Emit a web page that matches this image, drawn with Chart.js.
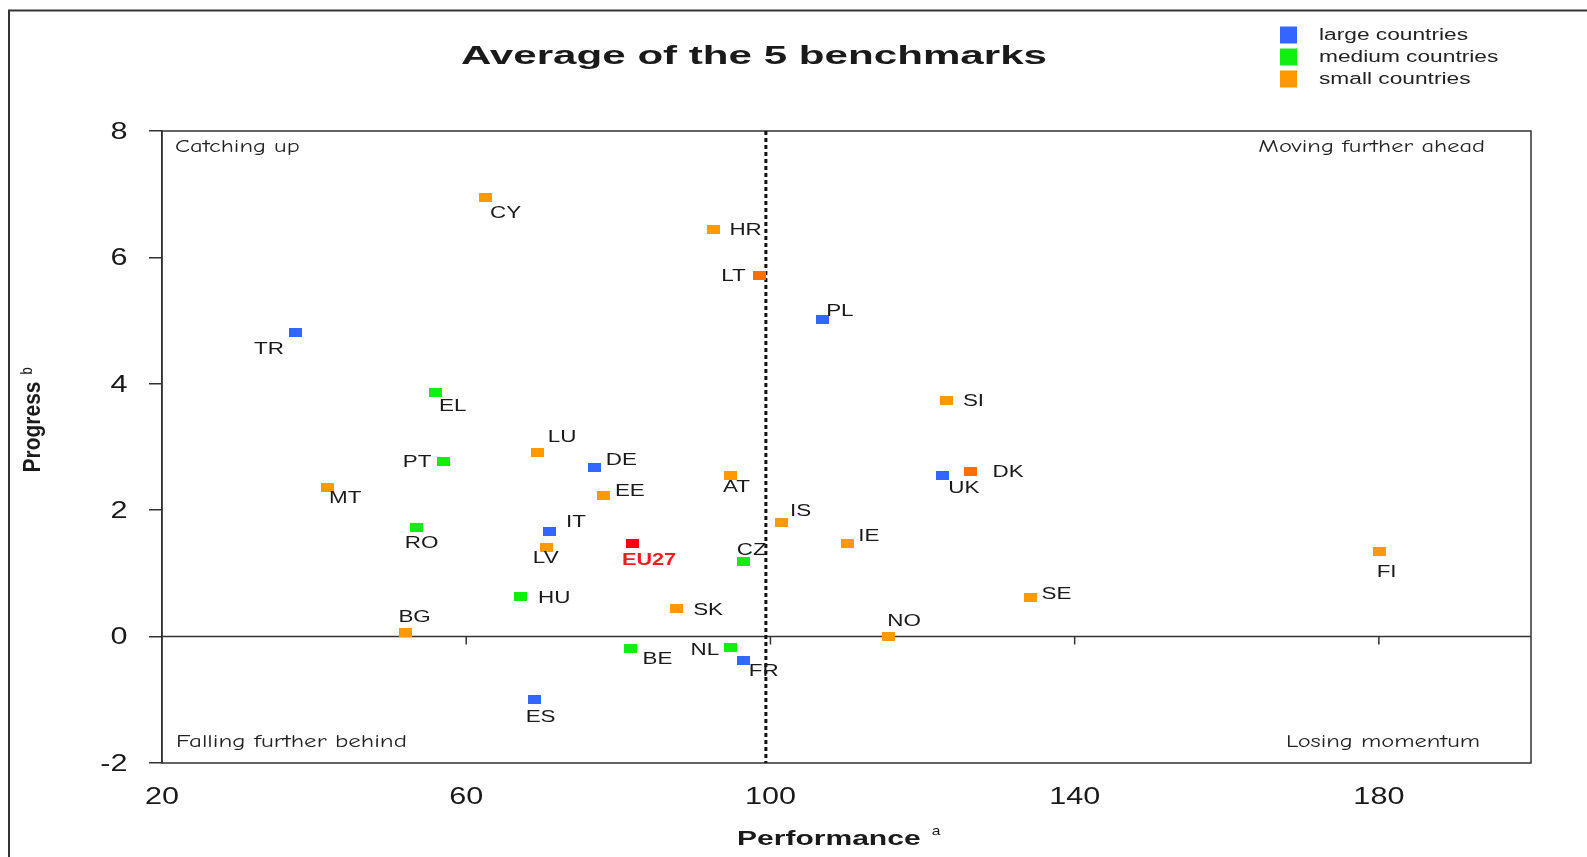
<!DOCTYPE html>
<html>
<head>
<meta charset="utf-8">
<title>Average of the 5 benchmarks</title>
<script src="https://cdn.jsdelivr.net/npm/chart.js@4.4.1/dist/chart.umd.min.js"></script>
<style>
  html, body { margin: 0; padding: 0; background: #fff; }
  canvas { display: block; }
</style>
</head>
<body>
<canvas id="chart" width="1587" height="857"></canvas>
<script>
// values (performance, progress)
const largeCodes = ["TR", "PL", "DE", "UK", "IT", "FR", "ES"];
const largePerf  = [37.6, 106.8, 76.9, 122.6, 70.9, 96.5, 69.0];
const largeProg  = [4.81, 5.02, 2.68, 2.55, 1.66, -0.38, -0.99];

const mediumCodes = ["EL", "PT", "RO", "CZ", "HU", "BE", "NL"];
const mediumPerf  = [55.9, 57.0, 53.5, 96.5, 67.2, 81.6, 94.7];
const mediumProg  = [3.86, 2.77, 1.73, 1.19, 0.64, -0.19, -0.17];

const smallCodes = ["CY", "HR", "LT", "SI", "LU", "AT", "DK", "MT", "EE", "IS", "IE", "LV", "FI", "SE", "SK", "BG", "NO"];
const smallPerf  = [62.6, 92.5, 98.6, 123.2, 69.4, 94.8, 126.3, 41.7, 78.1, 101.4, 110.1, 70.6, 180.1, 134.2, 87.6, 52.0, 115.5];
const smallProg  = [6.95, 6.44, 5.72, 3.74, 2.91, 2.55, 2.62, 2.36, 2.23, 1.80, 1.47, 1.41, 1.34, 0.62, 0.44, 0.06, 0.00];

const euCodes = ["EU27"];
const euPerf  = [81.8];
const euProg  = [1.47];

const xTickValues = [20, 60, 100, 140, 180];
const yTickValues = [-2, 0, 2, 4, 6, 8];
const parityLine = 99.4;

const quadrantNames = ["Catching up", "Moving further ahead", "Falling further behind", "Losing momentum"];

// where each country code sits relative to its marker: [dx, dy, align]
const labelSpots = {
  CY: [4, 15, "left"], HR: [16, 0, "left"], LT: [-14, 0, "right"], TR: [-12, 15, "right"],
  EL: [4, 12, "left"], LU: [10, -17, "left"], PT: [-12, 0, "right"], DE: [11, -8, "left"],
  MT: [2, 10, "left"], EE: [11, -6, "left"], AT: [-8, 11, "left"], IS: [9, -13, "left"],
  RO: [-12, 15, "left"], IT: [17, -11, "left"], EU27: [-10, 15, "left"], LV: [-14, 10, "left"],
  CZ: [-7, -12, "left"], HU: [17, 1, "left"], PL: [4, -9, "left"], SI: [16, 0, "left"],
  UK: [6, 12, "left"], DK: [22, 0, "left"], IE: [11, -9, "left"], FI: [-3, 19, "left"],
  SE: [11, -4, "left"], BG: [-7, -17, "left"], SK: [17, 0, "left"], BE: [12, 9, "left"],
  NL: [-11, 2, "right"], FR: [5, 9, "left"], ES: [-9, 17, "left"], NO: [-1, -17, "left"]
};
const darkOrange = ["LT", "DK"];

const FONT = '"Liberation Sans", Arial, Helvetica, sans-serif';
const COMIC = '"Comic Sans MS", "Comic Neue", "DejaVu Sans", sans-serif';

const rectCache = {};
function markRect(color) {
  if (!rectCache[color]) {
    const c = document.createElement("canvas");
    c.width = 13;
    c.height = 9;
    const g = c.getContext("2d");
    g.fillStyle = color;
    g.fillRect(0, 0, 13, 9);
    rectCache[color] = c;
  }
  return rectCache[color];
}

function toPoints(perf, prog) {
  return perf.map((v, i) => ({ x: v, y: prog[i] }));
}

// text in the reference is wider than plain Arial, so stretch it
function wideText(ctx, text, x, y, o) {
  ctx.save();
  ctx.font = o.font;
  ctx.fillStyle = o.color || "#1a1a1a";
  ctx.textAlign = o.align || "left";
  ctx.textBaseline = o.baseline || "middle";
  ctx.translate(x, y);
  if (o.rotate) ctx.rotate(o.rotate);
  ctx.scale(o.sx || 1, o.sy || 1);
  ctx.fillText(text, 0, 0);
  ctx.restore();
}

const datasets = [
  { label: "large countries", codes: largeCodes, data: toPoints(largePerf, largeProg), color: "#3366ff",
    pointStyle: markRect("#3366ff") },
  { label: "medium countries", codes: mediumCodes, data: toPoints(mediumPerf, mediumProg), color: "#11ee11",
    pointStyle: markRect("#11ee11") },
  { label: "small countries", codes: smallCodes, data: toPoints(smallPerf, smallProg), color: "#ff9900",
    pointStyle: c => markRect(darkOrange.includes(smallCodes[c.dataIndex]) ? "#ff6e00" : "#ff9900") },
  { label: "EU27", codes: euCodes, data: toPoints(euPerf, euProg), color: "#ff0000",
    pointStyle: markRect("#ff0000"), noLegend: true }
];
datasets.forEach(d => { d.pointRadius = 6; d.pointHoverRadius = 6; d.backgroundColor = d.color; });

const overlay = {
  id: "overlay",
  beforeDatasetsDraw(chart) {
    const { ctx, chartArea: a, scales: { x, y } } = chart;
    ctx.save();
    ctx.strokeStyle = "#333";
    ctx.lineWidth = 1.5;
    ctx.strokeRect(a.left, a.top, a.right - a.left, a.bottom - a.top);

    // zero line with the x ticks hanging from it
    const y0 = y.getPixelForValue(0);
    ctx.beginPath();
    ctx.moveTo(a.left, y0);
    ctx.lineTo(a.right, y0);
    x.ticks.forEach(t => {
      const px = x.getPixelForValue(t.value);
      if (px > a.left + 2) {
        ctx.moveTo(px, y0);
        ctx.lineTo(px, y0 + 8);
      }
    });
    ctx.stroke();

    const xp = x.getPixelForValue(parityLine);
    ctx.strokeStyle = "#111";
    ctx.lineWidth = 3;
    ctx.setLineDash([4, 3]);
    ctx.beginPath();
    ctx.moveTo(xp, a.top);
    ctx.lineTo(xp, a.bottom);
    ctx.stroke();
    ctx.restore();
  },
  afterDatasetsDraw(chart) {
    const { ctx } = chart;
    chart.data.datasets.forEach((ds, i) => {
      const meta = chart.getDatasetMeta(i);
      meta.data.forEach((pt, j) => {
        const code = ds.codes[j];
        const spot = labelSpots[code] || [8, 0, "left"];
        const isEu = code === "EU27";
        wideText(ctx, code, pt.x + spot[0], pt.y + spot[1] + 1.5, {
          font: (isEu ? "bold 17px " : "16px ") + FONT,
          color: isEu ? "#ff1a1a" : "#1a1a1a",
          align: spot[2],
          sx: isEu ? 1.27 : 1.4
        });
      });
    });
  },
  afterDraw(chart) {
    const { ctx, scales: { x, y } } = chart;

    // tick labels
    y.ticks.forEach(t => {
      wideText(ctx, String(t.value), 127.5, y.getPixelForValue(t.value) + 1.5,
        { font: "23px " + FONT, align: "right", sx: 1.33 });
    });
    x.ticks.forEach(t => {
      wideText(ctx, String(t.value), x.getPixelForValue(t.value), 798,
        { font: "23px " + FONT, align: "center", sx: 1.33 });
    });

    // title and axis titles
    wideText(ctx, "Average of the 5 benchmarks", 754, 57, { font: "bold 26px " + FONT, align: "center", sx: 1.62 });
    wideText(ctx, "Performance", 737, 839, { font: "bold 21px " + FONT, sx: 1.43 });
    wideText(ctx, "a", 936, 831, { font: "13px " + FONT, align: "center", sx: 1.2 });
    wideText(ctx, "Progress", 34, 427, { font: "bold 21px " + FONT, align: "center", rotate: -Math.PI / 2, sy: 1.1 });
    wideText(ctx, "b", 28, 371, { font: "13px " + FONT, align: "center", rotate: -Math.PI / 2, sy: 1.2 });

    // quadrant notes
    const note = { font: "17px " + COMIC, color: "#222", sx: 1.44 };
    wideText(ctx, quadrantNames[0], 175, 147, note);
    wideText(ctx, quadrantNames[1], 1485, 147, Object.assign({}, note, { align: "right" }));
    wideText(ctx, quadrantNames[2], 176, 742, Object.assign({}, note, { sx: 1.47 }));
    wideText(ctx, quadrantNames[3], 1480, 742, Object.assign({}, note, { align: "right" }));

    // legend
    const legendRows = [35, 57, 79];
    chart.data.datasets.filter(d => !d.noLegend).forEach((d, i) => {
      ctx.fillStyle = d.color;
      ctx.fillRect(1280, legendRows[i] - 8.5, 17, 17);
      wideText(ctx, d.label, 1319, legendRows[i] + 5, { font: "16px " + FONT, baseline: "alphabetic", color: "#222", sx: 1.42 });
    });

    // figure frame (left and top edges only are in view)
    ctx.save();
    ctx.strokeStyle = "#333";
    ctx.lineWidth = 2;
    ctx.beginPath();
    ctx.moveTo(9, 857);
    ctx.lineTo(9, 10.5);
    ctx.lineTo(1587, 10.5);
    ctx.stroke();
    ctx.restore();
  }
};

new Chart(document.getElementById("chart"), {
  type: "scatter",
  data: { datasets },
  options: {
    responsive: false,
    animation: false,
    devicePixelRatio: 1,
    layout: { padding: { left: 0, top: 131, right: 56, bottom: 0 } },
    plugins: { legend: { display: false }, tooltip: { enabled: false } },
    scales: {
      x: {
        type: "linear",
        min: 20,
        max: 200,
        afterBuildTicks: s => { s.ticks = xTickValues.map(v => ({ value: v })); },
        afterFit: s => { s.height = 94; },
        ticks: { display: false },
        grid: { display: false },
        border: { display: false }
      },
      y: {
        type: "linear",
        min: -2,
        max: 8,
        afterBuildTicks: s => { s.ticks = yTickValues.map(v => ({ value: v })); },
        afterFit: s => { s.width = 162; },
        ticks: { display: false },
        grid: { drawOnChartArea: false, drawTicks: true, tickLength: 13, color: "#333", lineWidth: 1.5 },
        border: { display: true, color: "#333", width: 1.5 }
      }
    }
  },
  plugins: [overlay]
});
</script>
</body>
</html>
